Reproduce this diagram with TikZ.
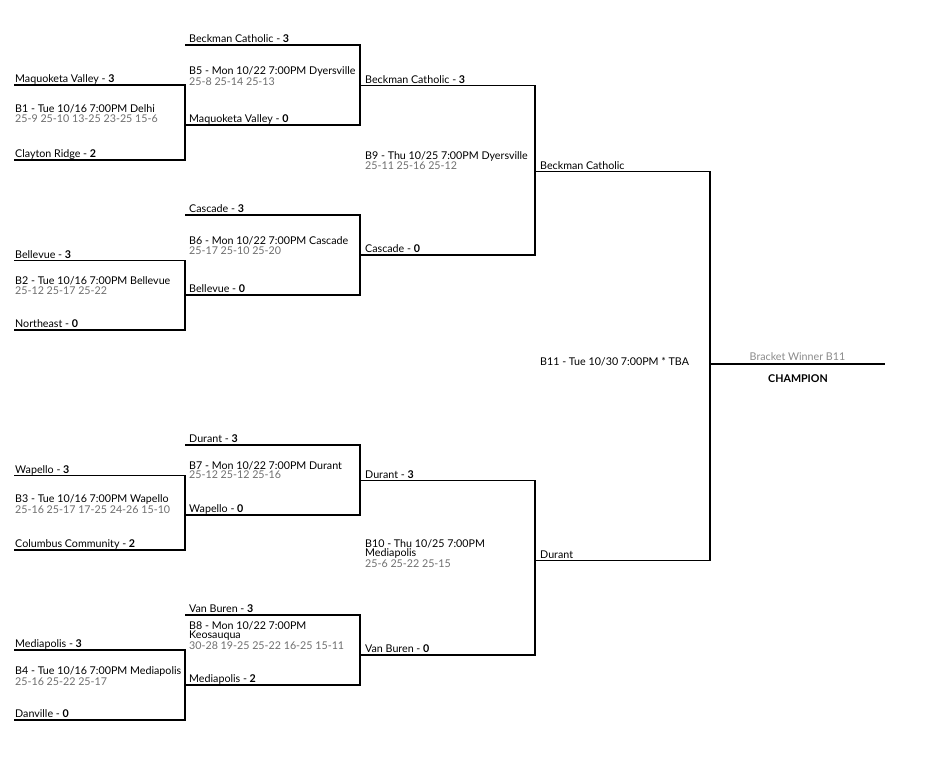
\documentclass[tikz,border=0pt]{standalone}
\usepackage{fontspec}
\setmainfont{Lato}
\definecolor{scoregray}{HTML}{6E6E6E}
\definecolor{wingray}{HTML}{8A8A8A}
\begin{document}
\begin{tikzpicture}[x=1pt,y=-1pt,
  bline/.style={line width=1.15pt,black},
  team/.style={anchor=base west,inner sep=0pt,font=\fontsize{10.7}{12}\selectfont},
  info/.style={anchor=north west,inner sep=0pt,align=left,font=\fontsize{10.7}{9.5}\selectfont}]
\useasboundingbox (0,0) rectangle (927,757);
% ---- round 1
\draw[bline] (14,85) -- (185,85) -- (185,160) -- (14,160);
\draw[bline] (14,260.5) -- (185,260.5) -- (185,330) -- (14,330);
\draw[bline] (14,475.5) -- (185,475.5) -- (185,550) -- (14,550);
\draw[bline] (14,650) -- (185,650) -- (185,720) -- (14,720);
% ---- round 2
\draw[bline] (185,45) -- (360,45) -- (360,125) -- (185,125);
\draw[bline] (185,215) -- (360,215) -- (360,295) -- (185,295);
\draw[bline] (185,445) -- (360,445) -- (360,515) -- (185,515);
\draw[bline] (185,615) -- (360,615) -- (360,685) -- (185,685);
% ---- round 3
\draw[bline] (360,85.5) -- (535,85.5) -- (535,255) -- (360,255);
\draw[bline] (360,480.5) -- (535,480.5) -- (535,655) -- (360,655);
% ---- round 4
\draw[bline] (535,171.5) -- (710,171.5) -- (710,560.5) -- (535,560.5);
% ---- champion
\draw[bline] (710,364) -- (885,364);

% ---- team labels round 1
\node[team] (r1a) at (15,82.7) {Maquoketa Valley - \textbf{3}};
\node[team] (r1b) at (15,157.7) {Clayton Ridge - \textbf{2}};
\node[team] (r1c) at (15,258.2) {Bellevue - \textbf{3}};
\node[team] (r1d) at (15,327.7) {Northeast - \textbf{0}};
\node[team] (r1e) at (15,473.2) {Wapello - \textbf{3}};
\node[team] (r1f) at (15,547.7) {Columbus Community - \textbf{2}};
\node[team] (r1g) at (15,647.7) {Mediapolis - \textbf{3}};
\node[team] (r1h) at (15,717.7) {Danville - \textbf{0}};
% ---- round 2
\node[team] (r2a) at (189,42.7) {Beckman Catholic - \textbf{3}};
\node[team] (r2b) at (189,122.7) {Maquoketa Valley - \textbf{0}};
\node[team] (r2c) at (189,212.7) {Cascade - \textbf{3}};
\node[team] (r2d) at (189,292.7) {Bellevue - \textbf{0}};
\node[team] (r2e) at (189,442.7) {Durant - \textbf{3}};
\node[team] (r2f) at (189,512.7) {Wapello - \textbf{0}};
\node[team] (r2g) at (189,612.7) {Van Buren - \textbf{3}};
\node[team] (r2h) at (189,682.7) {Mediapolis - \textbf{2}};
% ---- round 3
\node[team] (r3a) at (365,83.2) {Beckman Catholic - \textbf{3}};
\node[team] (r3b) at (365,252.7) {Cascade - \textbf{0}};
\node[team] (r3c) at (365,478.2) {Durant - \textbf{3}};
\node[team] (r3d) at (365,652.7) {Van Buren - \textbf{0}};
% ---- round 4
\node[team] (r4a) at (540,169.2) {Beckman Catholic};
\node[team] (r4b) at (540,558.2) {Durant};

% ---- match info
\node[info] (b1) at (15,104.5) {B1 - Tue 10/16 7:00PM Delhi\\\textcolor{scoregray}{25-9 25-10 13-25 23-25 15-6}};
\node[info] (b2) at (15,276.7) {B2 - Tue 10/16 7:00PM Bellevue\\\textcolor{scoregray}{25-12 25-17 25-22}};
\node[info] (b3) at (15,494.5) {B3 - Tue 10/16 7:00PM Wapello\\\textcolor{scoregray}{25-16 25-17 17-25 24-26 15-10}};
\node[info] (b4) at (15,666.7) {B4 - Tue 10/16 7:00PM Mediapolis\\\textcolor{scoregray}{25-16 25-22 25-17}};
\node[info] (b5) at (189,66.7) {B5 - Mon 10/22 7:00PM Dyersville\\\textcolor{scoregray}{25-8 25-14 25-13}};
\node[info] (b6) at (189,236.7) {B6 - Mon 10/22 7:00PM Cascade\\\textcolor{scoregray}{25-17 25-10 25-20}};
\node[info] (b7) at (189,461) {B7 - Mon 10/22 7:00PM Durant\\\textcolor{scoregray}{25-12 25-12 25-16}};
\node[info] (b8) at (189,621) {B8 - Mon 10/22 7:00PM\\Keosauqua\\\textcolor{scoregray}{30-28 19-25 25-22 16-25 15-11}};
\node[info] (b9) at (365,151) {B9 - Thu 10/25 7:00PM Dyersville\\\textcolor{scoregray}{25-11 25-16 25-12}};
\node[info] (b10) at (365,539) {B10 - Thu 10/25 7:00PM\\Mediapolis\\\textcolor{scoregray}{25-6 25-22 25-15}};
\node[team] (b11) at (540,365) {B11 - Tue 10/30 7:00PM * TBA};

% ---- champion
\node[anchor=base,inner sep=0pt,font=\fontsize{10.7}{12}\selectfont,text=wingray] (win) at (797.5,360) {Bracket Winner B11};
\node[anchor=base,inner sep=0pt,font=\fontsize{10.7}{12}\selectfont\bfseries] (champ) at (798,382.7) {CHAMPION};
\end{tikzpicture}
\end{document}
